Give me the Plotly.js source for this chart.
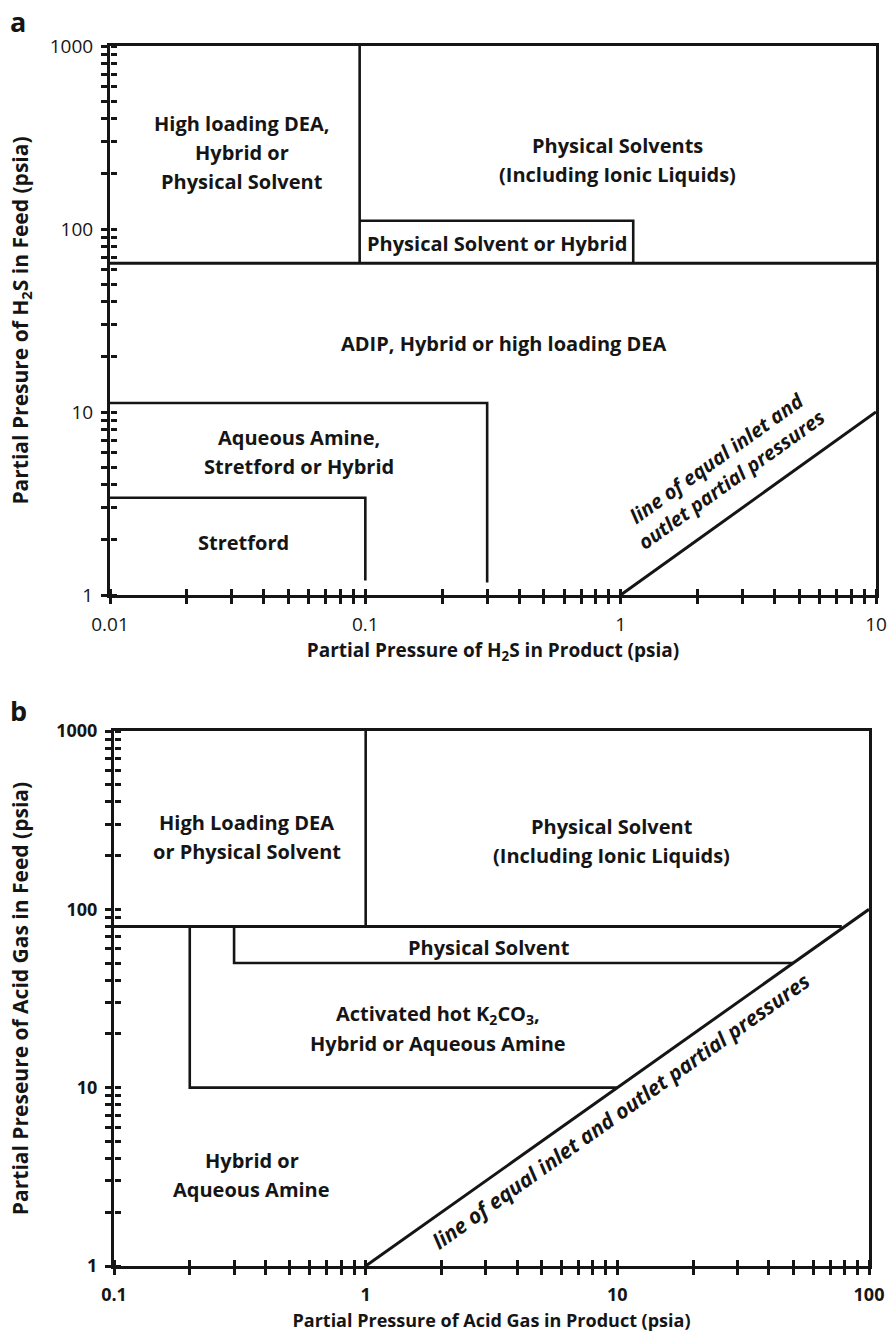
<!DOCTYPE html>
<html>
<head>
<meta charset="utf-8">
<script src="https://cdn.plot.ly/plotly-3.0.1.min.js"></script>
<style>html,body{margin:0;padding:0;background:#fff;}#chart{width:890px;height:1333px;}</style>
</head>
<body>
<div id="chart"></div>
<script>
// ---------- Panel a : H2S ----------
const A_X_MAJOR = [0.01, 0.1, 1, 10];
const A_X_TEXT = ['0.01', '0.1', '1', '10'];
const A_Y_MAJOR = [1, 10, 100, 1000];
const A_Y_TEXT = ['1', '10', '100', '1000'];

const A_DEA_X = [0.095, 0.095];      const A_DEA_Y = [1000, 65];
const A_ADIP_X = [0.01, 10];         const A_ADIP_Y = [65, 65];
const A_PSH_X = [0.095, 1.12, 1.12]; const A_PSH_Y = [111, 111, 65];
const A_AQ_X = [0.01, 0.3, 0.3];     const A_AQ_Y = [11.2, 11.2, 1.17];
const A_ST_X = [0.01, 0.1, 0.1];     const A_ST_Y = [3.4, 3.4, 1.2];
const A_EQ_X = [1, 10];              const A_EQ_Y = [1, 10];

const A_LABELS = [
  'High loading DEA,<br>Hybrid or<br>Physical Solvent',
  'Physical Solvents<br>(Including Ionic Liquids)',
  'Physical Solvent or Hybrid',
  'ADIP, Hybrid or high loading DEA',
  'Aqueous Amine,<br>Stretford or Hybrid',
  'Stretford'
];
const A_LABEL_X = [0.033, 0.97, 0.327, 0.348, 0.0548, 0.0334];
const A_LABEL_Y = [263, 238, 83.6, 23.7, 6.03, 1.93];
const A_EQ_LABEL = 'line of equal inlet and<br>outlet partial pressures';
const A_EQ_LABEL_X = [2.55];
const A_EQ_LABEL_Y = [4.9];

// ---------- Panel b : Acid gas ----------
const B_X_MAJOR = [0.1, 1, 10, 100];
const B_X_TEXT = ['0.1', '1', '10', '100'];
const B_Y_MAJOR = [1, 10, 100, 1000];
const B_Y_TEXT = ['1', '10', '100', '1000'];

const B_DEA_X = [1, 1];              const B_DEA_Y = [1000, 80];
const B_TOP_X = [0.1, 78];           const B_TOP_Y = [80, 80];
const B_PS_X = [0.3, 0.3, 50];       const B_PS_Y = [80, 50, 50];
const B_HK_X = [0.2, 0.2, 10];       const B_HK_Y = [80, 10, 10];
const B_EQ_X = [1, 100];             const B_EQ_Y = [1, 100];

const B_LABELS = [
  'High Loading DEA<br>or Physical Solvent',
  'Physical Solvent<br>(Including Ionic Liquids)',
  'Physical Solvent',
  'Activated hot K<sub>2</sub>CO<sub>3</sub>,<br>Hybrid or Aqueous Amine',
  'Hybrid or<br>Aqueous Amine'
];
const B_LABEL_X = [0.337, 9.5, 3.1, 1.94, 0.353];
const B_LABEL_Y = [254, 241, 60.8, 21.3, 3.23];
const B_EQ_LABEL = 'line of equal inlet and outlet partial pressures';
const B_EQ_LABEL_X = [10.3];
const B_EQ_LABEL_Y = [7.4];

// ---------- build ----------
const FONT = 'Open Sans, Noto Sans, sans-serif';
const INK = '#151515';
const W = 890, H = 1333;

function logTicks(majors, texts) {
  const vals = [], txt = [];
  for (let i = 0; i < majors.length; i++) {
    vals.push(majors[i]); txt.push(texts[i]);
    if (i < majors.length - 1) {
      for (let m = 2; m <= 9; m++) { vals.push(+(majors[i] * m).toPrecision(6)); txt.push(' '); }
    }
  }
  return {vals, txt};
}

function seg(x, y, xa, ya, w) {
  return {x: x, y: y, xaxis: xa, yaxis: ya, type: 'scatter', mode: 'lines',
          line: {color: INK, width: w || 2.6}, hoverinfo: 'skip', showlegend: false, cliponaxis: false};
}
// invisible carriers so the inner-tick overlay axes get drawn
function carrier(x, y, xa, ya) {
  return {x: x, y: y, xaxis: xa, yaxis: ya, type: 'scatter', mode: 'lines',
          line: {color: 'rgba(0,0,0,0)', width: 1}, hoverinfo: 'skip', showlegend: false};
}

const traces = [
  carrier(A_EQ_X, A_EQ_Y, 'x3', 'y'),
  carrier(A_EQ_X, A_EQ_Y, 'x', 'y3'),
  carrier(B_EQ_X, B_EQ_Y, 'x4', 'y2'),
  carrier(B_EQ_X, B_EQ_Y, 'x2', 'y4'),
  seg(A_DEA_X, A_DEA_Y, 'x', 'y'),
  seg(A_ADIP_X, A_ADIP_Y, 'x', 'y', 3),
  seg(A_PSH_X, A_PSH_Y, 'x', 'y'),
  seg(A_AQ_X, A_AQ_Y, 'x', 'y'),
  seg(A_ST_X, A_ST_Y, 'x', 'y'),
  seg(A_EQ_X, A_EQ_Y, 'x', 'y', 3),
  seg(B_DEA_X, B_DEA_Y, 'x2', 'y2'),
  seg(B_TOP_X, B_TOP_Y, 'x2', 'y2', 3),
  seg(B_PS_X, B_PS_Y, 'x2', 'y2'),
  seg(B_HK_X, B_HK_Y, 'x2', 'y2'),
  seg(B_EQ_X, B_EQ_Y, 'x2', 'y2', 3)
];

const aX = logTicks(A_X_MAJOR, A_X_TEXT), aY = logTicks(A_Y_MAJOR, A_Y_TEXT);
const bX = logTicks(B_X_MAJOR, B_X_TEXT), bY = logTicks(B_Y_MAJOR, B_Y_TEXT);

const aDomX = [110 / W, 876 / W], aDomY = [1 - 595 / H, 1 - 46 / H];
const bDomX = [114 / W, 869 / W], bDomY = [1 - 1266 / H, 1 - 731 / H];

function mainAxis(range, dom, anchor, ticks, tickfont, title, tsize, standoff) {
  return {type: 'log', range: range, domain: dom, anchor: anchor,
    showline: true, linewidth: 3, linecolor: INK, mirror: true,
    ticks: 'outside', ticklen: 6, tickwidth: 3, tickcolor: INK,
    tickmode: 'array', tickvals: ticks.vals, ticktext: ticks.txt, ticklabelstandoff: 4, tickangle: 0,
    showgrid: false, zeroline: false, tickfont: tickfont,
    title: {text: title, font: {family: FONT, size: tsize, color: INK}, standoff: standoff},
    automargin: false, fixedrange: true};
}
// overlay axis sitting on the same line but facing the other way: its "outside" ticks point into the plot
function innerAxis(range, overlay, side, pos, ticks) {
  return {type: 'log', range: range, autorange: false, overlaying: overlay, side: side,
    anchor: 'free', position: pos,
    showline: false, ticks: 'outside', ticklen: 6, tickwidth: 3, tickcolor: INK,
    tickmode: 'array', tickvals: ticks.vals, showticklabels: false,
    showgrid: false, zeroline: false, fixedrange: true};
}

const tfA = {family: FONT, size: 19, color: INK};
const tfB = {family: FONT, size: 18, color: INK, weight: 'bold'};

const layout = {
  width: W, height: H,
  margin: {l: 0, r: 0, t: 0, b: 0},
  paper_bgcolor: '#fff', plot_bgcolor: 'rgba(0,0,0,0)',
  showlegend: false,
  xaxis: mainAxis([-2, 1], aDomX, 'y', aX, tfA, '<b>Partial Pressure of H<sub>2</sub>S in Product (psia)</b>', 19, 8),
  yaxis: mainAxis([0, 3], aDomY, 'x', aY, tfA, '<b>Partial Presure of H<sub>2</sub>S in Feed (psia)</b>', 21, 16),
  xaxis2: mainAxis([-1, 2], bDomX, 'y2', bX, tfB, '<b>Partial Pressure of Acid Gas in Product (psia)</b>', 18, 10),
  yaxis2: mainAxis([0, 3], bDomY, 'x2', bY, tfB, '<b>Partial Preseure of Acid Gas in Feed (psia)</b>', 21, 22),
  xaxis3: innerAxis([-2, 1], 'x', 'top', aDomY[0], aX),
  yaxis3: innerAxis([0, 3], 'y', 'right', aDomX[0], aY),
  xaxis4: innerAxis([-1, 2], 'x2', 'top', bDomY[0], bX),
  yaxis4: innerAxis([0, 3], 'y2', 'right', bDomX[0], bY),
  annotations: []
};

const LINE_H = 29;
function addLabels(texts, xs, ys, xref, yref) {
  texts.forEach((t, i) => {
    const lines = t.split('<br>');
    const n = lines.length;
    lines.forEach((ln, k) => layout.annotations.push({
      text: '<b>' + ln + '</b>', x: Math.log10(xs[i]), y: Math.log10(ys[i]),
      xref: xref, yref: yref, showarrow: false, align: 'center',
      xanchor: 'center', yanchor: 'middle', yshift: ((n - 1) / 2 - k) * LINE_H,
      font: {family: FONT, size: 20, color: INK}
    }));
  });
}
addLabels(A_LABELS, A_LABEL_X, A_LABEL_Y, 'x', 'y');
addLabels(B_LABELS, B_LABEL_X, B_LABEL_Y, 'x2', 'y2');

layout.annotations.push({text: '<b><i>' + A_EQ_LABEL + '</i></b>', x: Math.log10(A_EQ_LABEL_X[0]), y: Math.log10(A_EQ_LABEL_Y[0]),
  xref: 'x', yref: 'y', showarrow: false, textangle: -35.5, align: 'center',
  font: {family: FONT, size: 20, color: INK}});
layout.annotations.push({text: '<b><i>' + B_EQ_LABEL + '</i></b>', x: Math.log10(B_EQ_LABEL_X[0]), y: Math.log10(B_EQ_LABEL_Y[0]),
  xref: 'x2', yref: 'y2', showarrow: false, textangle: -35.5, align: 'center',
  font: {family: FONT, size: 21, color: INK}});

// panel letters
layout.annotations.push({text: '<b>a</b>', xref: 'paper', yref: 'paper', x: 18 / W, y: 1 - 22 / H,
  xanchor: 'center', yanchor: 'middle', showarrow: false, font: {family: FONT, size: 27, color: INK}});
layout.annotations.push({text: '<b>b</b>', xref: 'paper', yref: 'paper', x: 18 / W, y: 1 - 710 / H,
  xanchor: 'center', yanchor: 'middle', showarrow: false, font: {family: FONT, size: 27, color: INK}});

Plotly.newPlot('chart', traces, layout, {staticPlot: true, displayModeBar: false});
</script>
</body>
</html>
